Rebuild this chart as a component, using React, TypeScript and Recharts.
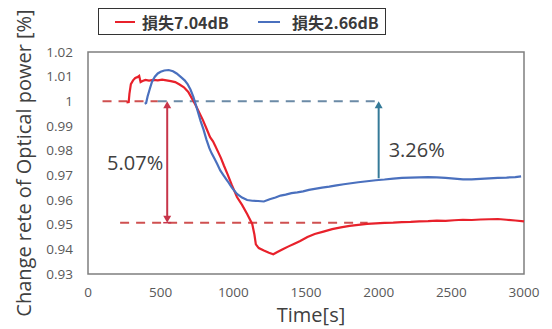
import { LineChart, Line, XAxis, YAxis, ReferenceLine, ReferenceArea, Label } from 'recharts';

// time axis [s] and relative optical power for the two loss conditions
const redTime = [
  265, 280, 285, 295, 310, 325, 340, 352, 362, 375, 395, 420, 450, 480, 510, 540, 570, 600,
  630, 660, 690, 715, 740, 765, 790, 815, 840, 860, 875, 895, 915, 935, 960, 990, 1025, 1060,
  1095, 1130, 1145, 1155, 1175, 1210, 1245, 1275, 1300, 1340, 1380, 1420, 1460, 1510, 1560,
  1620, 1680, 1740, 1800, 1860, 1920, 1980, 2040, 2100, 2160, 2220, 2280, 2340, 2400, 2460,
  2520, 2580, 2640, 2700, 2760, 2820, 2880, 2940, 3000,
];
const redValue = [
  0.9996, 0.9997, 1.003, 1.007, 1.0085, 1.0095, 1.0098, 1.0103, 1.0078, 1.0082, 1.0087, 1.0084,
  1.0087, 1.0085, 1.0088, 1.0085, 1.0082, 1.0078, 1.0068, 1.0057, 1.0038, 1.0012, 0.9985, 0.9955,
  0.9925, 0.989, 0.9855, 0.9838, 0.982, 0.9795, 0.977, 0.974, 0.9705, 0.966, 0.9612, 0.958,
  0.9543, 0.9503, 0.946, 0.942, 0.9405, 0.9395, 0.9386, 0.938, 0.9388, 0.94, 0.9412, 0.9423,
  0.9434, 0.945, 0.9462, 0.9472, 0.9482, 0.9489, 0.9495, 0.9499, 0.9503, 0.9505, 0.9507, 0.9508,
  0.951, 0.9511, 0.9513, 0.9514, 0.9516, 0.9515, 0.9518, 0.952, 0.9519, 0.9521, 0.9522, 0.9523,
  0.952, 0.9517, 0.9513,
];

const blueTime = [
  390, 400, 410, 425, 440, 460, 480, 500, 525, 555, 585, 610, 640, 665, 685, 705, 725, 745,
  760, 775, 795, 815, 835, 850, 870, 890, 910, 935, 960, 990, 1025, 1060, 1095, 1130, 1170,
  1210, 1250, 1290, 1325, 1360, 1400, 1440, 1480, 1520, 1560, 1610, 1660, 1710, 1760, 1810,
  1860, 1920, 1980, 2040, 2100, 2160, 2220, 2280, 2340, 2400, 2460, 2520, 2580, 2640, 2700,
  2760, 2820, 2880, 2940, 2980,
];
const blueValue = [
  0.999, 0.9993, 1.002, 1.005, 1.0079, 1.01, 1.0113, 1.012, 1.0125, 1.0127, 1.0122, 1.0113,
  1.0098, 1.0085, 1.007, 1.0048, 1.0018, 0.998, 0.995, 0.992, 0.9885, 0.9845, 0.981, 0.979,
  0.9768, 0.9745, 0.972, 0.9698, 0.9677, 0.965, 0.9625, 0.961, 0.96, 0.9597, 0.9596, 0.9594,
  0.9603, 0.961, 0.9618, 0.9622, 0.9628, 0.9631, 0.9635, 0.9641, 0.9645, 0.965, 0.9654, 0.9659,
  0.9664, 0.9668, 0.9672, 0.9676, 0.968, 0.9683, 0.9687, 0.969, 0.9691, 0.9692, 0.9693, 0.9692,
  0.969, 0.9687, 0.9684, 0.9684, 0.9686, 0.9688, 0.969, 0.9691, 0.9693, 0.9696,
];

const seriesNames = ['損失7.04dB', '損失2.66dB'];
const xTicks = [0, 500, 1000, 1500, 2000, 2500, 3000];
const yTicks = [0.93, 0.94, 0.95, 0.96, 0.97, 0.98, 0.99, 1, 1.01, 1.02];

// annotation levels
const baseLevel = 1.0;
const redFinal = 0.9508;
const blueFinal = 0.9688;
const redDrop = '5.07%';
const blueDrop = '3.26%';

const RED = '#e8212b';
const BLUE = '#4a70be';
const RED_DASH = '#cf5050';
const BLUE_DASH = '#6b8aa6';
const RED_ARROW = '#c7354a';
const BLUE_ARROW = '#357a98';

const redData = redTime.map((t, i) => ({ t, v: redValue[i] }));
const blueData = blueTime.map((t, i) => ({ t, v: blueValue[i] }));

const font = '"Open Sans", "Liberation Sans", sans-serif';

const arrowShape = (color: string, text: string, both: boolean, side: 'left' | 'right', textDy: number) =>
  (props: any) => {
    const { x1, y1, x2, y2 } = props;
    const top = Math.min(y1, y2);
    const bottom = Math.max(y1, y2);
    const mid = (top + bottom) / 2;
    return (
      <g>
        <line x1={x1} y1={top + 5} x2={x2} y2={both ? bottom - 5 : bottom} stroke={color} strokeWidth={2} />
        <path d={`M${x1 - 4},${top + 7} L${x1},${top} L${x1 + 4},${top + 7} Z`} fill={color} />
        {both && <path d={`M${x1 - 4},${bottom - 7} L${x1},${bottom} L${x1 + 4},${bottom - 7} Z`} fill={color} />}
        {both && <line x1={x1 - 4} y1={bottom} x2={x1 + 4} y2={bottom} stroke={color} strokeWidth={1.5} />}
        <text
          x={side === 'left' ? x1 - 4 : x1 + 10}
          y={mid + textDy}
          textAnchor={side === 'left' ? 'end' : 'start'}
          dominantBaseline="central"
          fontFamily={font}
          fontSize={20}
          fill="#404040"
        >
          {text}
        </text>
      </g>
    );
  };

const legendText = {
  position: 'absolute' as const,
  top: 1,
  lineHeight: '24px',
  whiteSpace: 'nowrap' as const,
};

const LegendBox = () => (
  <div
    style={{
      position: 'absolute',
      left: 98,
      top: 8,
      width: 288,
      height: 27,
      border: '1.5px solid #333',
      fontFamily: '"Noto Sans CJK JP", sans-serif',
      fontWeight: 700,
      fontSize: 16,
      color: '#3a3a3a',
      boxSizing: 'border-box',
      background: '#fff',
      overflow: 'hidden',
    }}
  >
    <span style={{ position: 'absolute', left: 16, top: 12, width: 20, height: 2, background: RED }} />
    <span style={{ ...legendText, left: 43 }}>{seriesNames[0]}</span>
    <span style={{ position: 'absolute', left: 159, top: 12, width: 22, height: 2, background: BLUE }} />
    <span style={{ ...legendText, left: 193 }}>{seriesNames[1]}</span>
  </div>
);

export default function App() {
  return (
    <div style={{ position: 'absolute', left: 0, top: 0, width: 552, height: 329, background: '#fff' }}>
      <LineChart width={552} height={329} margin={{ top: 52, right: 28, left: 38, bottom: 25 }}>
        <XAxis
          type="number"
          dataKey="t"
          domain={[0, 3000]}
          ticks={xTicks}
          axisLine={false}
          tickLine={false}
          tickMargin={7}
          tick={{ fontFamily: font, fontSize: 13.5, fill: '#595959' }}
          height={30}
        >
          <Label value="Time[s]" position="bottom" offset={4} dx={5} style={{ fontFamily: font, fontSize: 20, fill: '#404040' }} />
        </XAxis>
        <YAxis
          type="number"
          dataKey="v"
          domain={[0.93, 1.02]}
          ticks={yTicks}
          allowDataOverflow
          axisLine={false}
          tickLine={false}
          tickMargin={9}
          width={50}
          tickFormatter={(v: number) => String(Number(v.toFixed(2)))}
          tick={{ fontFamily: font, fontSize: 13.5, fill: '#595959' }}
        >
          <Label
            value="Change rete of Optical power [%]"
            angle={-90}
            position="insideLeft"
            offset={-14}
            style={{ textAnchor: 'middle', fontFamily: font, fontSize: 20, fill: '#404040' }}
          />
        </YAxis>
        <ReferenceArea x1={0} x2={3000} y1={0.93} y2={1.02} fill="none" stroke="#7f7f7f" strokeWidth={1.5} ifOverflow="visible" />

        <ReferenceLine segment={[{ x: 100, y: baseLevel }, { x: 480, y: baseLevel }]} stroke={RED_DASH} strokeWidth={2} strokeDasharray="9 7" />
        <ReferenceLine segment={[{ x: 480, y: baseLevel }, { x: 2000, y: baseLevel }]} stroke={BLUE_DASH} strokeWidth={2} strokeDasharray="9 7" />
        <ReferenceLine segment={[{ x: 221, y: redFinal }, { x: 1924, y: redFinal }]} stroke={RED_DASH} strokeWidth={2} strokeDasharray="9 7" />

        <Line data={redData} dataKey="v" type="linear" stroke={RED} strokeWidth={2.2} dot={false} isAnimationActive={false} />
        <Line data={blueData} dataKey="v" type="linear" stroke={BLUE} strokeWidth={2.2} dot={false} isAnimationActive={false} />

        <ReferenceLine
          segment={[{ x: 545, y: baseLevel }, { x: 545, y: redFinal }]}
          shape={arrowShape(RED_ARROW, redDrop, true, 'left', 0)}
        />
        <ReferenceLine
          segment={[{ x: 2000, y: blueFinal }, { x: 2000, y: baseLevel }]}
          shape={arrowShape(BLUE_ARROW, blueDrop, false, 'right', 10)}
        />
      </LineChart>
      <LegendBox />
    </div>
  );
}
